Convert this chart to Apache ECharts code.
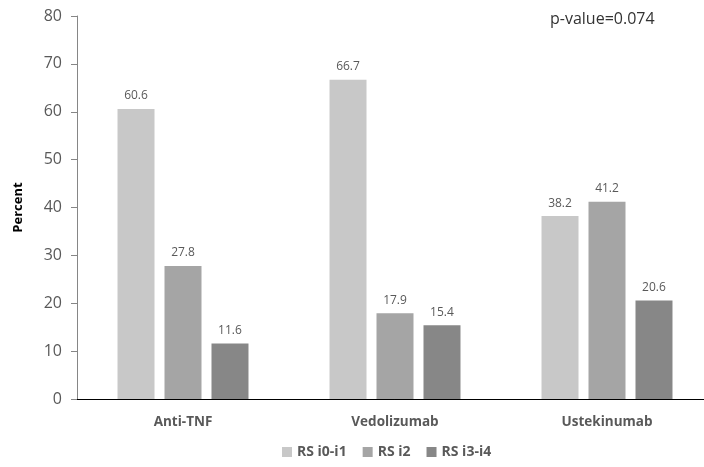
<!DOCTYPE html>
<html><head><meta charset="utf-8">
<script src="https://cdn.jsdelivr.net/npm/echarts@6/dist/echarts.min.js"></script>
<style>html,body{margin:0;padding:0;background:#fff;overflow:hidden}#c{width:720px;height:467px}</style>
</head><body><div id="c"></div>
<script>
var categories = ['Anti-TNF', 'Vedolizumab', 'Ustekinumab'];
var seriesNames = ['RS i0-i1', 'RS i2', 'RS i3-i4'];
var rs01 = [60.6, 66.7, 38.2];
var rs2 = [27.8, 17.9, 41.2];
var rs34 = [11.6, 15.4, 20.6];
var colors = ['#c8c8c8', '#a5a5a5', '#878787'];
var F = '"Open Sans", "Noto Sans", sans-serif';
function mk(name, data, color) {
  return {
    name: name, type: 'bar', data: data, barWidth: 37, barGap: '27%',
    itemStyle: {color: color},
    label: {show: true, position: 'top', distance: 7, color: '#595959', fontSize: 12, fontFamily: F,
      formatter: function(p){return p.value.toFixed(1);}}
  };
}
var chart = echarts.init(document.getElementById('c'));
chart.setOption({
  animation: false,
  textStyle: {fontFamily: F},
  grid: {left: 77, right: 7, top: 16, bottom: 68},
  title: {text: 'p-value=0.074', left: 545, top: 6, textStyle: {fontSize: 16, fontWeight: 'normal', color: '#333', fontFamily: F}},
  legend: {bottom: 3, left: 277, itemWidth: 10, itemHeight: 10, itemGap: 16, icon: 'rect',
    textStyle: {fontSize: 14, fontWeight: 'bold', color: '#595959', fontFamily: F}, data: seriesNames},
  xAxis: {type: 'category', data: categories,
    axisLine: {lineStyle: {color: '#000', width: 1}}, axisTick: {show: false},
    axisLabel: {fontSize: 13.5, fontWeight: 'bold', color: '#595959', margin: 16, fontFamily: F}},
  yAxis: {type: 'value', min: 0, max: 80, interval: 10,
    name: 'Percent', nameLocation: 'middle', nameGap: 52, nameRotate: 90,
    nameTextStyle: {fontSize: 13, fontWeight: 'bold', color: '#000', fontFamily: F},
    axisLine: {show: true, lineStyle: {color: '#868686'}},
    axisTick: {show: true, length: 6, lineStyle: {color: '#868686'}},
    splitLine: {show: false},
    axisLabel: {fontSize: 16, color: '#595959', margin: 15, fontFamily: F}},
  series: [mk(seriesNames[0], rs01, colors[0]), mk(seriesNames[1], rs2, colors[1]), mk(seriesNames[2], rs34, colors[2])]
});
</script></body></html>
